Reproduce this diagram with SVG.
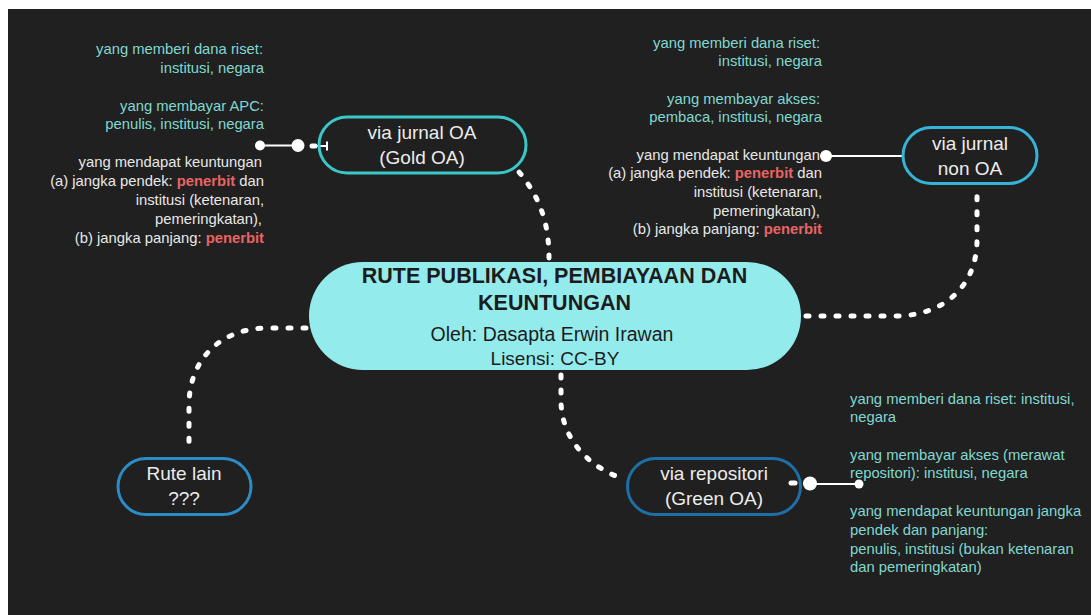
<svg xmlns="http://www.w3.org/2000/svg" width="1091" height="615" viewBox="0 0 1091 615">
<style>
.sm{font-family:"Liberation Sans",Arial,sans-serif;font-size:14.8px}
.teal{fill:#80d8d0}
.wht{fill:#e8e8e8}
.red{fill:#e86464;font-weight:bold}
.nt{font-family:"Liberation Sans",Arial,sans-serif;font-size:19px;fill:#ececec;text-anchor:middle}
.ct{font-family:"Liberation Sans",Arial,sans-serif;fill:#1c1c1c;text-anchor:middle}
.dots{fill:none;stroke:#ffffff;stroke-width:5;stroke-linecap:round;stroke-dasharray:3 12}
.ln{stroke:#ffffff;stroke-width:2;fill:none}
.dot{fill:#ffffff}
</style>
<rect x="0" y="0" width="1091" height="615" fill="#ffffff"/>
<rect x="8" y="9" width="1083" height="606" fill="#202020"/>

<g id="connectors">
<path class="dots" d="M549,258 C549,215 535,190 514,166"/>
<path class="dots" d="M806,316 L895,316 C945,316 977,285 977,240 L977,193"/>
<path class="dots" d="M306,328 L268,328 C220,328 189,360 189,405 L189,452"/>
<path class="dots" d="M561,375 L561,400 C561,440 590,468 624,479"/>
<line class="ln" x1="260" y1="145.5" x2="298" y2="145.5"/>
<circle class="dot" cx="260" cy="145.5" r="5"/>
<circle class="dot" cx="298" cy="145.5" r="6.5"/>
<line x1="312" y1="146" x2="315" y2="146" stroke="#ffffff" stroke-width="5" stroke-linecap="round"/>
<line class="ln" x1="315" y1="146" x2="327" y2="146"/>
<line class="ln" x1="327" y1="141.5" x2="327" y2="150.5"/>
<line class="ln" x1="826" y1="156" x2="903" y2="156"/>
<circle class="dot" cx="826" cy="156" r="6"/>
<line x1="791" y1="483" x2="795" y2="483" stroke="#ffffff" stroke-width="5" stroke-linecap="round"/>
<line class="ln" x1="810" y1="484" x2="859" y2="484"/>
<circle class="dot" cx="810" cy="483.5" r="7"/>
<circle class="dot" cx="859" cy="484" r="4.5"/>
</g>

<g id="center">
<rect x="309" y="262" width="492" height="108" rx="54" fill="#94ebec"/>
<text class="ct" x="554.5" y="283" font-size="21.5" font-weight="bold">RUTE PUBLIKASI, PEMBIAYAAN DAN</text>
<text class="ct" x="554.5" y="310" font-size="21.5" font-weight="bold">KEUNTUNGAN</text>
<text class="ct" x="552" y="341" font-size="19.5">Oleh: Dasapta Erwin Irawan</text>
<text class="ct" x="555" y="365" font-size="19">Lisensi: CC-BY</text>
</g>

<g id="gold">
<rect x="319" y="117" width="207" height="56" rx="28" fill="none" stroke="#3ac7c8" stroke-width="3"/>
<text class="nt" x="422" y="139">via jurnal OA</text>
<text class="nt" x="422" y="164">(Gold OA)</text>
</g>

<g id="nonoa">
<rect x="903" y="127.5" width="134" height="56" rx="28" fill="none" stroke="#35b4d8" stroke-width="3"/>
<text class="nt" x="970" y="150">via jurnal</text>
<text class="nt" x="970" y="175">non OA</text>
</g>

<g id="green">
<rect x="627.5" y="458.5" width="173" height="56" rx="28" fill="none" stroke="#1e6fa6" stroke-width="3"/>
<text class="nt" x="714" y="480">via repositori</text>
<text class="nt" x="714" y="505">(Green OA)</text>
</g>

<g id="lain">
<rect x="118" y="458.5" width="133" height="56" rx="28" fill="none" stroke="#2b8cc6" stroke-width="3"/>
<text class="nt" x="184" y="480">Rute lain</text>
<text class="nt" x="184" y="505">???</text>
</g>

<g id="gold-notes" class="sm" text-anchor="end">
<text class="teal" x="263" y="54">yang memberi dana riset:</text>
<text class="teal" x="264" y="73">institusi, negara</text>
<text class="teal" x="264" y="111">yang membayar APC:</text>
<text class="teal" x="264" y="129">penulis, institusi, negara</text>
<text class="wht" x="262" y="167">yang mendapat keuntungan</text>
<text class="wht" x="264" y="186">(a) jangka pendek: <tspan class="red">penerbit</tspan> dan</text>
<text class="wht" x="264" y="205">institusi (ketenaran,</text>
<text class="wht" x="262" y="224">pemeringkatan),</text>
<text class="wht" x="264" y="243">(b) jangka panjang: <tspan class="red">penerbit</tspan></text>
</g>

<g id="nonoa-notes" class="sm" text-anchor="end">
<text class="teal" x="820" y="48">yang memberi dana riset:</text>
<text class="teal" x="822" y="66">institusi, negara</text>
<text class="teal" x="820" y="104">yang membayar akses:</text>
<text class="teal" x="822" y="122">pembaca, institusi, negara</text>
<text class="wht" x="820" y="160">yang mendapat keuntungan</text>
<text class="wht" x="822" y="178">(a) jangka pendek: <tspan class="red">penerbit</tspan> dan</text>
<text class="wht" x="822" y="197">institusi (ketenaran,</text>
<text class="wht" x="820" y="216">pemeringkatan),</text>
<text class="wht" x="822" y="234">(b) jangka panjang: <tspan class="red">penerbit</tspan></text>
</g>

<g id="green-notes" class="sm teal">
<text x="850" y="404">yang memberi dana riset: institusi,</text>
<text x="850" y="422">negara</text>
<text x="850" y="460">yang membayar akses (merawat</text>
<text x="850" y="478">repositori): institusi, negara</text>
<text x="850" y="516">yang mendapat keuntungan jangka</text>
<text x="850" y="535">pendek dan panjang:</text>
<text x="850" y="554">penulis, institusi (bukan ketenaran</text>
<text x="850" y="572">dan pemeringkatan)</text>
</g>
</svg>
